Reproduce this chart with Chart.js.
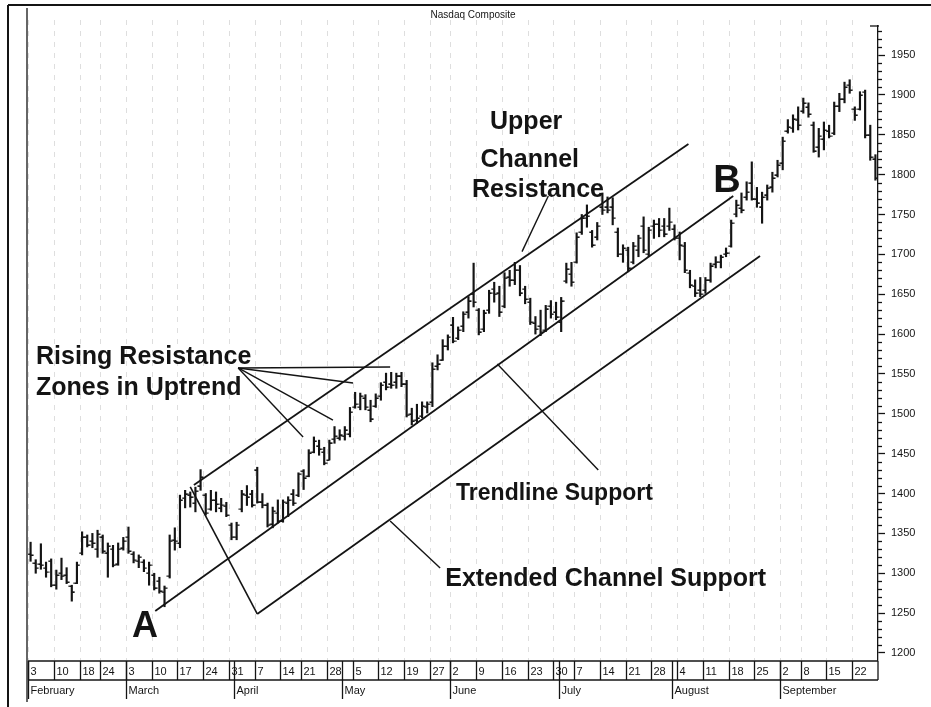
<!DOCTYPE html>
<html>
<head>
<meta charset="utf-8">
<title>Nasdaq Composite</title>
<script src="https://cdn.jsdelivr.net/npm/chart.js@4.4.1/dist/chart.umd.min.js"></script>
<style>
  html, body { margin: 0; padding: 0; background: #fff; }
  #wrap { width: 931px; height: 707px; }
</style>
</head>
<body>
<div id="wrap"><canvas id="myChart"></canvas></div>
<script>
// daily bars, Feb 3 .. Sep 26 (trading days, index 0..164)
const opens = [1324,1313,1312,1306,1315,1285,1300,1298,1284,1288,1325,1345,1340,1330,1346,1326,1330,1312,1332,
  1345,1324,1315,1314,1300,1298,1290,1276,1296,1342,1338,1394,1398,1388,1410,1398,1380,1392,1382,1384,1360,
  1345,1380,1398,1400,1430,1390,1386,1362,1375,1366,1388,1400,1398,1428,1422,1452,1460,1452,1442,1468,1470,
  1472,1475,1508,1508,1520,1505,1510,1522,1540,1538,1540,1548,1538,1500,1492,1497,1508,1515,1560,1568,1585,
  1612,1595,1610,1628,1650,1630,1606,1630,1656,1652,1635,1672,1668,1680,1656,1640,1614,1610,1605,1635,1628,
  1615,1666,1675,1690,1728,1745,1728,1722,1760,1760,1760,1728,1700,1705,1690,1705,1735,1700,1735,1738,1735,1735,
  1732,1720,1710,1676,1660,1655,1655,1668,1688,1690,1700,1710,1750,1758,1772,1790,1770,1760,1775,1785,1800,
  1815,1855,1858,1868,1880,1885,1862,1835,1845,1855,1852,1886,1895,1912,1882,1882,1903,1850,1820];
const highs = [1339,1317,1337,1314,1318,1304,1319,1307,1285,1314,1352,1348,1350,1354,1348,1338,1335,1338,1345,
  1358,1327,1323,1317,1314,1300,1295,1284,1348,1357,1398,1404,1402,1408,1430,1400,1404,1402,1394,1389,1363,
  1364,1404,1410,1404,1433,1400,1388,1383,1392,1392,1396,1405,1426,1430,1455,1471,1467,1458,1467,1484,1480,
  1484,1508,1527,1526,1524,1517,1525,1539,1551,1552,1551,1552,1542,1507,1512,1515,1515,1564,1574,1593,1599,
  1621,1609,1628,1647,1689,1632,1630,1655,1665,1660,1677,1680,1690,1686,1660,1645,1622,1630,1636,1642,1640,
  1646,1689,1690,1727,1750,1762,1730,1740,1777,1772,1771,1733,1712,1709,1715,1724,1747,1734,1743,1745,1745,1758,
  1737,1728,1715,1680,1668,1671,1671,1689,1697,1699,1708,1743,1768,1777,1791,1816,1784,1778,1787,1803,1818,
  1847,1869,1875,1885,1896,1890,1866,1858,1866,1862,1891,1902,1916,1919,1885,1904,1906,1862,1825];
const lows = [1315,1300,1305,1295,1283,1280,1292,1287,1265,1287,1323,1333,1332,1320,1325,1295,1308,1310,1329,
  1325,1313,1307,1302,1285,1279,1275,1258,1294,1329,1332,1382,1383,1377,1404,1373,1379,1377,1377,1371,1342,
  1342,1377,1385,1383,1388,1382,1358,1357,1363,1364,1371,1385,1396,1405,1421,1451,1448,1436,1442,1463,1467,
  1467,1471,1507,1505,1505,1490,1508,1517,1530,1532,1532,1534,1496,1486,1488,1495,1501,1509,1555,1567,1580,
  1589,1593,1603,1620,1634,1599,1603,1626,1640,1622,1633,1660,1662,1648,1638,1612,1600,1598,1603,1620,1618,
  1603,1664,1660,1689,1725,1734,1709,1718,1750,1752,1737,1697,1690,1678,1688,1697,1702,1697,1720,1722,1722,1730,
  1718,1693,1677,1658,1647,1647,1651,1665,1683,1683,1697,1709,1747,1752,1768,1768,1759,1739,1768,1778,1797,
  1806,1852,1853,1856,1877,1872,1828,1822,1831,1846,1850,1879,1890,1902,1868,1881,1846,1818,1793];
const closes = [1323,1306,1310,1301,1285,1298,1296,1289,1277,1310,1346,1336,1338,1349,1328,1334,1310,1330,1340,
  1328,1316,1320,1306,1310,1282,1278,1281,1340,1340,1392,1400,1396,1403,1421,1375,1392,1387,1385,1373,1345,
  1360,1400,1396,1386,1390,1385,1360,1378,1366,1389,1392,1388,1424,1420,1451,1466,1456,1438,1464,1472,1474,
  1480,1502,1512,1522,1508,1494,1520,1536,1534,1536,1548,1538,1498,1491,1495,1510,1512,1556,1563,1585,1596,
  1591,1605,1625,1642,1640,1603,1627,1652,1650,1628,1670,1668,1680,1652,1644,1615,1606,1602,1632,1625,1622,
  1642,1682,1665,1722,1746,1748,1712,1735,1755,1755,1745,1700,1708,1683,1710,1720,1705,1730,1738,1730,1726,1740,
  1720,1712,1680,1662,1652,1650,1668,1686,1690,1697,1702,1739,1762,1756,1778,1770,1765,1772,1783,1796,1812,
  1842,1860,1870,1862,1890,1876,1830,1848,1856,1848,1886,1895,1910,1906,1875,1900,1850,1822,1796];

// first trading day of each week / month (index into the arrays above)
const weekStart = [0,5,10,14,19,24,29,34,39,44,49,53,58,63,68,73,78,82,87,92,97,102,106,111,116,121,126,131,136,141,146,150,155,160];
const weekLabels = ["3","10","18","24","3","10","17","24","31","7","14","21","28","5","12","19","27","2","9","16","23","30","7","14","21","28","4","11","18","25","2","8","15","22"];
const monthStart = [0,19,40,61,82,103,125,146];
const monthLabels = ["February","March","April","May","June","July","August","September"];
const yTicks = [1200,1250,1300,1350,1400,1450,1500,1550,1600,1650,1700,1750,1800,1850,1900,1950];

// drawn lines: [day, price] pairs
const upperChannel = [[31.7, 1410.7], [127.7, 1838.4]];
const trendSupport = [[24.2, 1252.7], [136.4, 1773.2]];
const extendedSupport = [[44.0, 1248.9], [141.6, 1697.9]];
const connector = [[31.0, 1408.2], [44.0, 1248.9]];
const pointers = [
  [[40.3, 1557.5], [69.8, 1558.7]],
  [[40.3, 1557.5], [62.6, 1538.6]],
  [[40.3, 1557.5], [58.7, 1492.2]],
  [[40.3, 1557.5], [52.9, 1470.9]],
  [[100.5, 1773.2], [95.4, 1703.4]],
  [[90.6, 1562.5], [110.2, 1429.5]],
  [[69.8, 1365.6], [79.5, 1306.6]]
];

const FONT = '"Liberation Sans", Arial, Helvetica, sans-serif';
const INK = '#141414';

const notes = [
  { text: 'Upper', x: 96.2, y: 1857.2, size: 25, align: 'center' },
  { text: 'Channel', x: 96.9, y: 1809.6, size: 25, align: 'center' },
  { text: 'Resistance', x: 98.5, y: 1771.9, size: 25, align: 'center' },
  { text: 'B', x: 135.2, y: 1778.2, size: 38, align: 'center' },
  { text: 'A', x: 22.2, y: 1220.0, size: 36, align: 'center' },
  { text: 'Rising Resistance', x: 1.05, y: 1562.5, size: 25, align: 'left' },
  { text: 'Zones in Uptrend', x: 1.05, y: 1523.6, size: 25, align: 'left' },
  { text: 'Trendline Support', x: 82.6, y: 1391.9, size: 23, align: 'left' },
  { text: 'Extended Channel Support', x: 80.5, y: 1284.0, size: 25, align: 'left' }
];

const days = highs.map((_, i) => i);

function tickImage(side) {
  const c = document.createElement('canvas');
  c.width = 7; c.height = 2;
  const g = c.getContext('2d');
  g.fillStyle = INK;
  if (side === 'left') g.fillRect(0.5, 0.5, 3, 1.5); else g.fillRect(3.5, 0.5, 3, 1.5);
  return c;
}

function lineSet(pts, width) {
  return {
    type: 'line',
    data: pts.map(p => ({ x: p[0], y: p[1] })),
    borderColor: INK,
    borderWidth: width,
    pointRadius: 0,
    fill: false,
    order: 1
  };
}

const chartDecor = {
  id: 'chartDecor',
  beforeDraw(chart) {
    const ctx = chart.ctx;
    ctx.save();
    ctx.fillStyle = '#fff';
    ctx.fillRect(0, 0, chart.width, chart.height);
    ctx.restore();
  },
  beforeDatasetsDraw(chart) {
    const { ctx, chartArea: a, scales: { x } } = chart;
    ctx.save();
    ctx.strokeStyle = 'rgba(0,0,0,0.13)';
    ctx.lineWidth = 1;
    ctx.setLineDash([5, 6]);
    weekStart.forEach(w => {
      const px = Math.round(x.getPixelForValue(w - 0.5)) + 0.5;
      ctx.beginPath(); ctx.moveTo(px, a.top - 6); ctx.lineTo(px, a.bottom); ctx.stroke();
    });
    ctx.restore();
  },
  afterDatasetsDraw(chart) {
    const { ctx, scales: { x, y } } = chart;
    ctx.save();
    ctx.fillStyle = INK;
    ctx.textBaseline = 'alphabetic';
    notes.forEach(n => {
      ctx.font = 'bold ' + n.size + 'px ' + FONT;
      ctx.textAlign = n.align;
      ctx.fillText(n.text, x.getPixelForValue(n.x), y.getPixelForValue(n.y));
    });
    ctx.restore();
  },
  afterDraw(chart) {
    const { ctx, chartArea: a, scales: { x, y } } = chart;
    const seg = (x1, y1, x2, y2) => { ctx.beginPath(); ctx.moveTo(x1, y1); ctx.lineTo(x2, y2); ctx.stroke(); };
    ctx.save();
    ctx.strokeStyle = INK;
    ctx.fillStyle = INK;
    ctx.lineWidth = 1.3;

    // minor ticks every 10 on the price axis
    for (let v = 1200; v <= 1980; v += 10) {
      if (v % 50 === 0) continue;
      const py = Math.round(y.getPixelForValue(v)) + 0.5;
      seg(a.right, py, a.right + 4, py);
    }

    // frame
    ctx.lineWidth = 2;
    seg(8, 5, chart.width, 5);
    seg(8, 5, 8, chart.height);
    ctx.lineWidth = 1.3;
    seg(a.left - 1, 8, a.left - 1, a.bottom + 42);
    seg(a.right - 8, a.top, a.right + 1, a.top);

    // week boxes
    const r0 = a.bottom + 1, r1 = a.bottom + 20, r2 = a.bottom + 39;
    seg(a.left, r0, a.right, r0);
    seg(a.left, r1, a.right, r1);
    seg(a.right, r0, a.right, r1);
    ctx.font = '11px ' + FONT;
    ctx.textAlign = 'left';
    ctx.textBaseline = 'middle';
    weekStart.forEach((w, i) => {
      const px = Math.round(x.getPixelForValue(w - 0.5)) + 0.5;
      seg(px, r0, px, r1);
      ctx.fillText(weekLabels[i], px + 2, (r0 + r1) / 2 + 1);
    });
    monthStart.forEach((m, i) => {
      const px = Math.round(x.getPixelForValue(m - 0.5)) + 0.5;
      seg(px, r0, px, r2);
      ctx.fillText(monthLabels[i], px + 2, (r1 + r2) / 2 + 1);
    });

    // title
    ctx.font = '10px ' + FONT;
    ctx.textAlign = 'center';
    ctx.fillText('Nasdaq Composite', x.getPixelForValue(85.9), 15);
    ctx.restore();
  }
};

const data = {
  datasets: [
    {
      type: 'bar',
      data: days.map(i => ({ x: i, y: [lows[i], highs[i]] })),
      backgroundColor: INK,
      barThickness: 1.5,
      grouped: false,
      order: 3
    },
    {
      type: 'line',
      data: days.map(i => ({ x: i, y: opens[i] })),
      showLine: false,
      pointStyle: tickImage('left'),
      pointRadius: 3,
      order: 2
    },
    {
      type: 'line',
      data: days.map(i => ({ x: i, y: closes[i] })),
      showLine: false,
      pointStyle: tickImage('right'),
      pointRadius: 3,
      order: 2
    },
    lineSet(upperChannel, 1.8),
    lineSet(trendSupport, 1.8),
    lineSet(extendedSupport, 1.8),
    lineSet(connector, 1.6)
  ].concat(pointers.map(p => lineSet(p, 1.4)))
};

const config = {
  type: 'bar',
  data: data,
  options: {
    animation: false,
    responsive: true,
    maintainAspectRatio: false,
    layout: { padding: { left: 28, top: 26, right: 0, bottom: 47 } },
    plugins: {
      legend: { display: false },
      tooltip: { enabled: false },
      title: { display: false }
    },
    scales: {
      x: {
        type: 'linear',
        min: -0.5,
        max: 164.5,
        offset: false,
        display: false
      },
      y: {
        position: 'right',
        min: 1191.2,
        max: 1986.4,
        afterBuildTicks: (s) => { s.ticks = yTicks.map(v => ({ value: v })); },
        afterFit: (s) => { s.width = 53; },
        grid: { drawOnChartArea: false, tickLength: 7, color: INK, tickWidth: 1.3 },
        border: { color: INK, width: 1.3 },
        ticks: {
          padding: 6,
          color: INK,
          font: { family: FONT, size: 11 },
          callback: (v) => String(v)
        }
      }
    }
  },
  plugins: [chartDecor]
};

let myChart = new Chart(document.getElementById('myChart'), config);
</script>
</body>
</html>
